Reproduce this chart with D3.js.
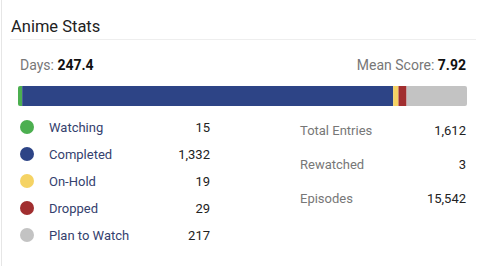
<!DOCTYPE html>
<html>
<head>
<meta charset="utf-8">
<script src="https://cdn.jsdelivr.net/npm/d3@7"></script>
<style>
  body { margin: 0; background: #fff; }
  text { font-family: Roboto, sans-serif; }
</style>
</head>
<body>
<div id="chart"></div>
<script>
const statuses = ['Watching', 'Completed', 'On-Hold', 'Dropped', 'Plan to Watch']
const counts = [15, 1332, 19, 29, 217]
const colors = ['#4caf50', '#2d4486', '#f5d364', '#a12e2f', '#c3c3c3']
const summaryLabels = ['Total Entries', 'Rewatched', 'Episodes']
const summaryValues = [1612, 3, 15542]
const days = 247.4
const meanScore = 7.92

const width = 480
const height = 266

const svg = d3
  .select('#chart')
  .append('svg')
  .attr('width', width)
  .attr('height', height)

// card border on the left
svg
  .append('line')
  .attr('x1', 1.5)
  .attr('x2', 1.5)
  .attr('y1', 0)
  .attr('y2', height)
  .attr('stroke', '#e6e6e6')

svg
  .append('text')
  .text('Anime Stats')
  .attr('x', 11)
  .attr('y', 32)
  .attr('font-size', 16.5)
  .attr('fill', '#222')

svg
  .append('line')
  .attr('x1', 10)
  .attr('x2', 476)
  .attr('y1', 39.5)
  .attr('y2', 39.5)
  .attr('stroke', '#eeeeee')

const fmt = d3.format(',')

const days_t = svg
  .append('text')
  .attr('x', 20)
  .attr('y', 70)
  .attr('font-size', 14)
  .attr('fill', '#777')
days_t.append('tspan').text('Days: ')
days_t.append('tspan').text(days).attr('font-weight', 'bold').attr('fill', '#111')

const mean_t = svg
  .append('text')
  .attr('x', 466)
  .attr('y', 70)
  .attr('font-size', 14)
  .attr('text-anchor', 'end')
  .attr('fill', '#777')
mean_t.append('tspan').text('Mean Score: ')
mean_t.append('tspan').text(meanScore).attr('font-weight', 'bold').attr('fill', '#111')

// stacked bar
const total = d3.sum(counts)
const xScale = d3.scaleLinear().domain([0, total]).range([18, 467])
const starts = d3.cumsum([0].concat(counts.slice(0, -1)))

const defs = svg.append('defs')
defs
  .append('clipPath')
  .attr('id', 'barclip')
  .append('rect')
  .attr('x', xScale(0))
  .attr('y', 86)
  .attr('width', xScale(total) - xScale(0))
  .attr('height', 20)
  .attr('rx', 2)

svg
  .append('g')
  .attr('clip-path', 'url(#barclip)')
  .selectAll('rect')
  .data(counts)
  .enter()
  .append('rect')
  .attr('x', (d, i) => xScale(starts[i]))
  .attr('y', 86)
  .attr('width', (d, i) => xScale(starts[i] + d) - xScale(starts[i]))
  .attr('height', 20)
  .attr('fill', (d, i) => colors[i])

// legend
const yLegend = d3.scalePoint().domain(statuses).range([127, 235])

const rows = svg
  .selectAll('.legend-row')
  .data(statuses)
  .enter()
  .append('g')
  .attr('class', 'legend-row')
  .attr('transform', d => 'translate(0,' + yLegend(d) + ')')

rows
  .append('circle')
  .attr('cx', 27)
  .attr('cy', 0)
  .attr('r', 7)
  .attr('fill', (d, i) => colors[i])

rows
  .append('text')
  .text(d => d)
  .attr('x', 49)
  .attr('dy', '0.35em')
  .attr('font-size', 13)
  .attr('fill', '#34416e')

rows
  .append('text')
  .text((d, i) => fmt(counts[i]))
  .attr('x', 210)
  .attr('dy', '0.35em')
  .attr('font-size', 13)
  .attr('text-anchor', 'end')
  .attr('fill', '#222')

// summary
const ySummary = d3.scalePoint().domain(summaryLabels).range([130, 198])

const srows = svg
  .selectAll('.summary-row')
  .data(summaryLabels)
  .enter()
  .append('g')
  .attr('class', 'summary-row')
  .attr('transform', d => 'translate(0,' + ySummary(d) + ')')

srows
  .append('text')
  .text(d => d)
  .attr('x', 300)
  .attr('dy', '0.35em')
  .attr('font-size', 13)
  .attr('fill', '#777')

srows
  .append('text')
  .text((d, i) => fmt(summaryValues[i]))
  .attr('x', 466)
  .attr('dy', '0.35em')
  .attr('font-size', 13)
  .attr('text-anchor', 'end')
  .attr('fill', '#222')
</script>
</body>
</html>
